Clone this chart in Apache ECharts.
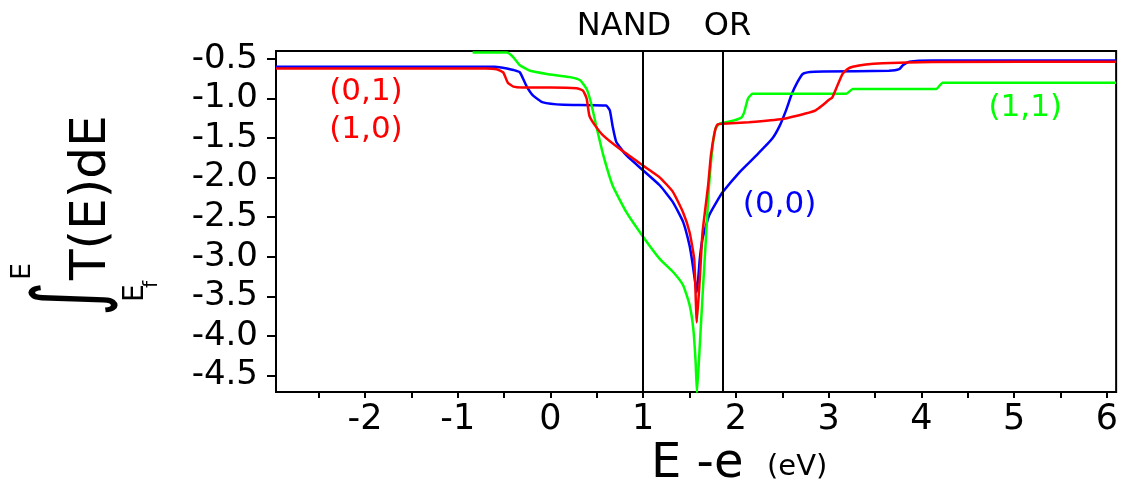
<!DOCTYPE html>
<html>
<head>
<meta charset="utf-8">
<script src="https://cdn.jsdelivr.net/npm/echarts@6/dist/echarts.min.js"></script>
<style>html,body{margin:0;padding:0;background:#fff}#c{width:1121px;height:484px}</style>
</head>
<body>
<div id="c"></div>
<script>
// ---- data ----
const redX  = [-2.96,-0.70,-0.58,-0.51,-0.46,-0.40,-0.30,0.00,0.28,0.35,0.39,0.42,0.48,0.57,0.75,1.00,1.18,1.32,1.43,1.50,1.55,1.578,1.61,1.64,1.70,1.73,1.77,1.80,1.86,2.14,2.50,2.75,2.86,2.93,3.00,3.04,3.10,3.15,3.20,3.26,3.40,3.58,4.12,6.10];
const redY  = [-0.62,-0.62,-0.63,-0.67,-0.80,-0.85,-0.86,-0.86,-0.87,-0.90,-1.00,-1.22,-1.34,-1.47,-1.64,-1.85,-2.00,-2.18,-2.44,-2.69,-3.03,-3.83,-3.28,-2.69,-2.10,-1.72,-1.43,-1.33,-1.32,-1.30,-1.26,-1.19,-1.15,-1.09,-1.02,-0.985,-0.82,-0.69,-0.63,-0.60,-0.57,-0.555,-0.54,-0.535];
const blueX = [-2.96,-0.60,-0.47,-0.40,-0.33,-0.26,-0.19,-0.08,0.14,0.60,0.64,0.67,0.71,0.82,1.00,1.18,1.32,1.43,1.50,1.53,1.565,1.578,1.61,1.64,1.71,1.79,1.86,2.04,2.22,2.39,2.47,2.54,2.60,2.66,2.72,2.80,2.94,3.65,3.76,3.80,3.87,4.12,6.10];
const blueY = [-0.60,-0.60,-0.62,-0.64,-0.67,-0.84,-0.96,-1.05,-1.08,-1.09,-1.15,-1.35,-1.55,-1.72,-1.91,-2.10,-2.31,-2.56,-2.86,-3.07,-3.36,-3.45,-3.03,-2.77,-2.48,-2.31,-2.18,-1.93,-1.72,-1.51,-1.35,-1.15,-0.95,-0.80,-0.69,-0.665,-0.66,-0.65,-0.63,-0.58,-0.535,-0.52,-0.52];
const greenX = [-0.84,-0.47,-0.40,-0.33,-0.22,-0.04,0.21,0.32,0.39,0.44,0.50,0.57,0.67,0.82,1.00,1.18,1.32,1.43,1.50,1.54,1.565,1.58,1.61,1.64,1.68,1.71,1.75,1.78,1.82,1.97,2.06,2.09,2.13,2.18,3.19,3.26,4.16,4.23,6.10];
const greenY = [-0.42,-0.42,-0.48,-0.58,-0.65,-0.69,-0.73,-0.77,-0.88,-1.07,-1.38,-1.72,-2.10,-2.44,-2.75,-3.03,-3.19,-3.36,-3.61,-3.91,-4.33,-4.72,-4.12,-3.49,-2.69,-2.10,-1.59,-1.38,-1.32,-1.28,-1.24,-1.17,-1.00,-0.94,-0.94,-0.88,-0.88,-0.80,-0.80];
const gateX = [1.0, 1.86];
const gateNames = ['NAND', 'OR'];
const xTickValues = [-2.5,-2,-1.5,-1,-0.5,0,0.5,1,1.5,2,2.5,3,3.5,4,4.5,5,5.5,6];
const xLabelValues = [-2,-1,0,1,2,3,4,5,6];
const yLabelValues = [-4.5,-4,-3.5,-3,-2.5,-2,-1.5,-1,-0.5];
const tags = [
  {text:'(0,1)', x:-1.99, y:-0.913, color:'#ff0000'},
  {text:'(1,0)', x:-1.99, y:-1.393, color:'#ff0000'},
  {text:'(0,0)', x:2.47, y:-2.34, color:'#0000ff'},
  {text:'(1,1)', x:5.12, y:-1.12, color:'#00ff00'}
];
// ---------------------------------------
const F = 'DejaVu Sans';
const zip = (xs, ys) => xs.map((x, i) => [x, ys[i]]);
function lineSeries(name, xs, ys, color) {
  return {name, type:'line', data: zip(xs, ys), showSymbol:false, symbol:'none',
    smooth:0.15, lineStyle:{color, width:2.5}, itemStyle:{color}, z:3, animation:false};
}
const txt = (x, y, text, size, align, extra) => Object.assign({type:'text', x, y,
  style:{text, font:size + 'px ' + F, fill:'#000', align, verticalAlign:'middle', textAlign:align, textVerticalAlign:'middle'}}, extra || {});
const chart = echarts.init(document.getElementById('c'), null, {renderer:'canvas'});
const series = [
  lineSeries('(0,0)', blueX, blueY, '#0000ff'),
  lineSeries('(1,1)', greenX, greenY, '#00ff00'),
  lineSeries('(0,1)', redX, redY, '#ff0000'),
  {type:'line', data:[], z:5, animation:false,
   markLine:{silent:true, symbol:['none','none'], label:{show:false},
     lineStyle:{color:'#000', width:2, type:'solid'},
     data: gateX.map(v => ({xAxis:v}))},
   markPoint:{silent:true, symbol:'rect', symbolSize:1, itemStyle:{color:'rgba(0,0,0,0)'},
     data: tags.map(t => ({coord:[t.x, t.y], name:t.text,
       label:{show:true, position:'inside', formatter:'{b}', color:t.color, fontSize:31, fontFamily:F}}))}
  }
];
chart.setOption({
  animation:false,
  backgroundColor:'#fff',
  grid:{left:276, right:3, top:51, bottom:92, show:true, borderColor:'#000', borderWidth:2, backgroundColor:'transparent'},
  xAxis:{type:'value', min:-2.96, max:6.1,
    axisLine:{show:true, onZero:false, lineStyle:{color:'#000', width:2}},
    axisTick:{show:true, customValues:xTickValues, length:6, lineStyle:{color:'#000', width:2}},
    axisLabel:{customValues:xLabelValues, color:'#000', fontSize:35, fontFamily:F, margin:10},
    splitLine:{show:false}},
  yAxis:{type:'value', min:-4.71, max:-0.40,
    axisLine:{show:true, onZero:false, lineStyle:{color:'#000', width:2}},
    axisTick:{show:true, customValues:yLabelValues, length:9, lineStyle:{color:'#000', width:2}},
    axisLabel:{customValues:yLabelValues, color:'#000', fontSize:34, fontFamily:F, margin:18,
      formatter: v => v.toFixed(1)},
    splitLine:{show:false}},
  series,
  graphic:[
    txt(624, 27, gateNames[0], 32, 'center'),
    txt(727.5, 27, gateNames[1], 32, 'center'),
    txt(651, 465, 'E -e', 48, 'left'),
    txt(767, 467, '(eV)', 29, 'left'),
    {type:'group', x:0, y:310, rotation:Math.PI/2, children:[
      txt(-6, 74, '∫', 78, 'left', {scaleX:0.85, scaleY:1.18}),
      txt(30, 23, 'E', 27, 'left'),
      txt(30, 92, 'T(E)dE', 50, 'left'),
      txt(8, 136, 'E', 28, 'left'),
      txt(22, 152, 'f', 20, 'left')
    ]}
  ]
});
</script>
</body>
</html>
